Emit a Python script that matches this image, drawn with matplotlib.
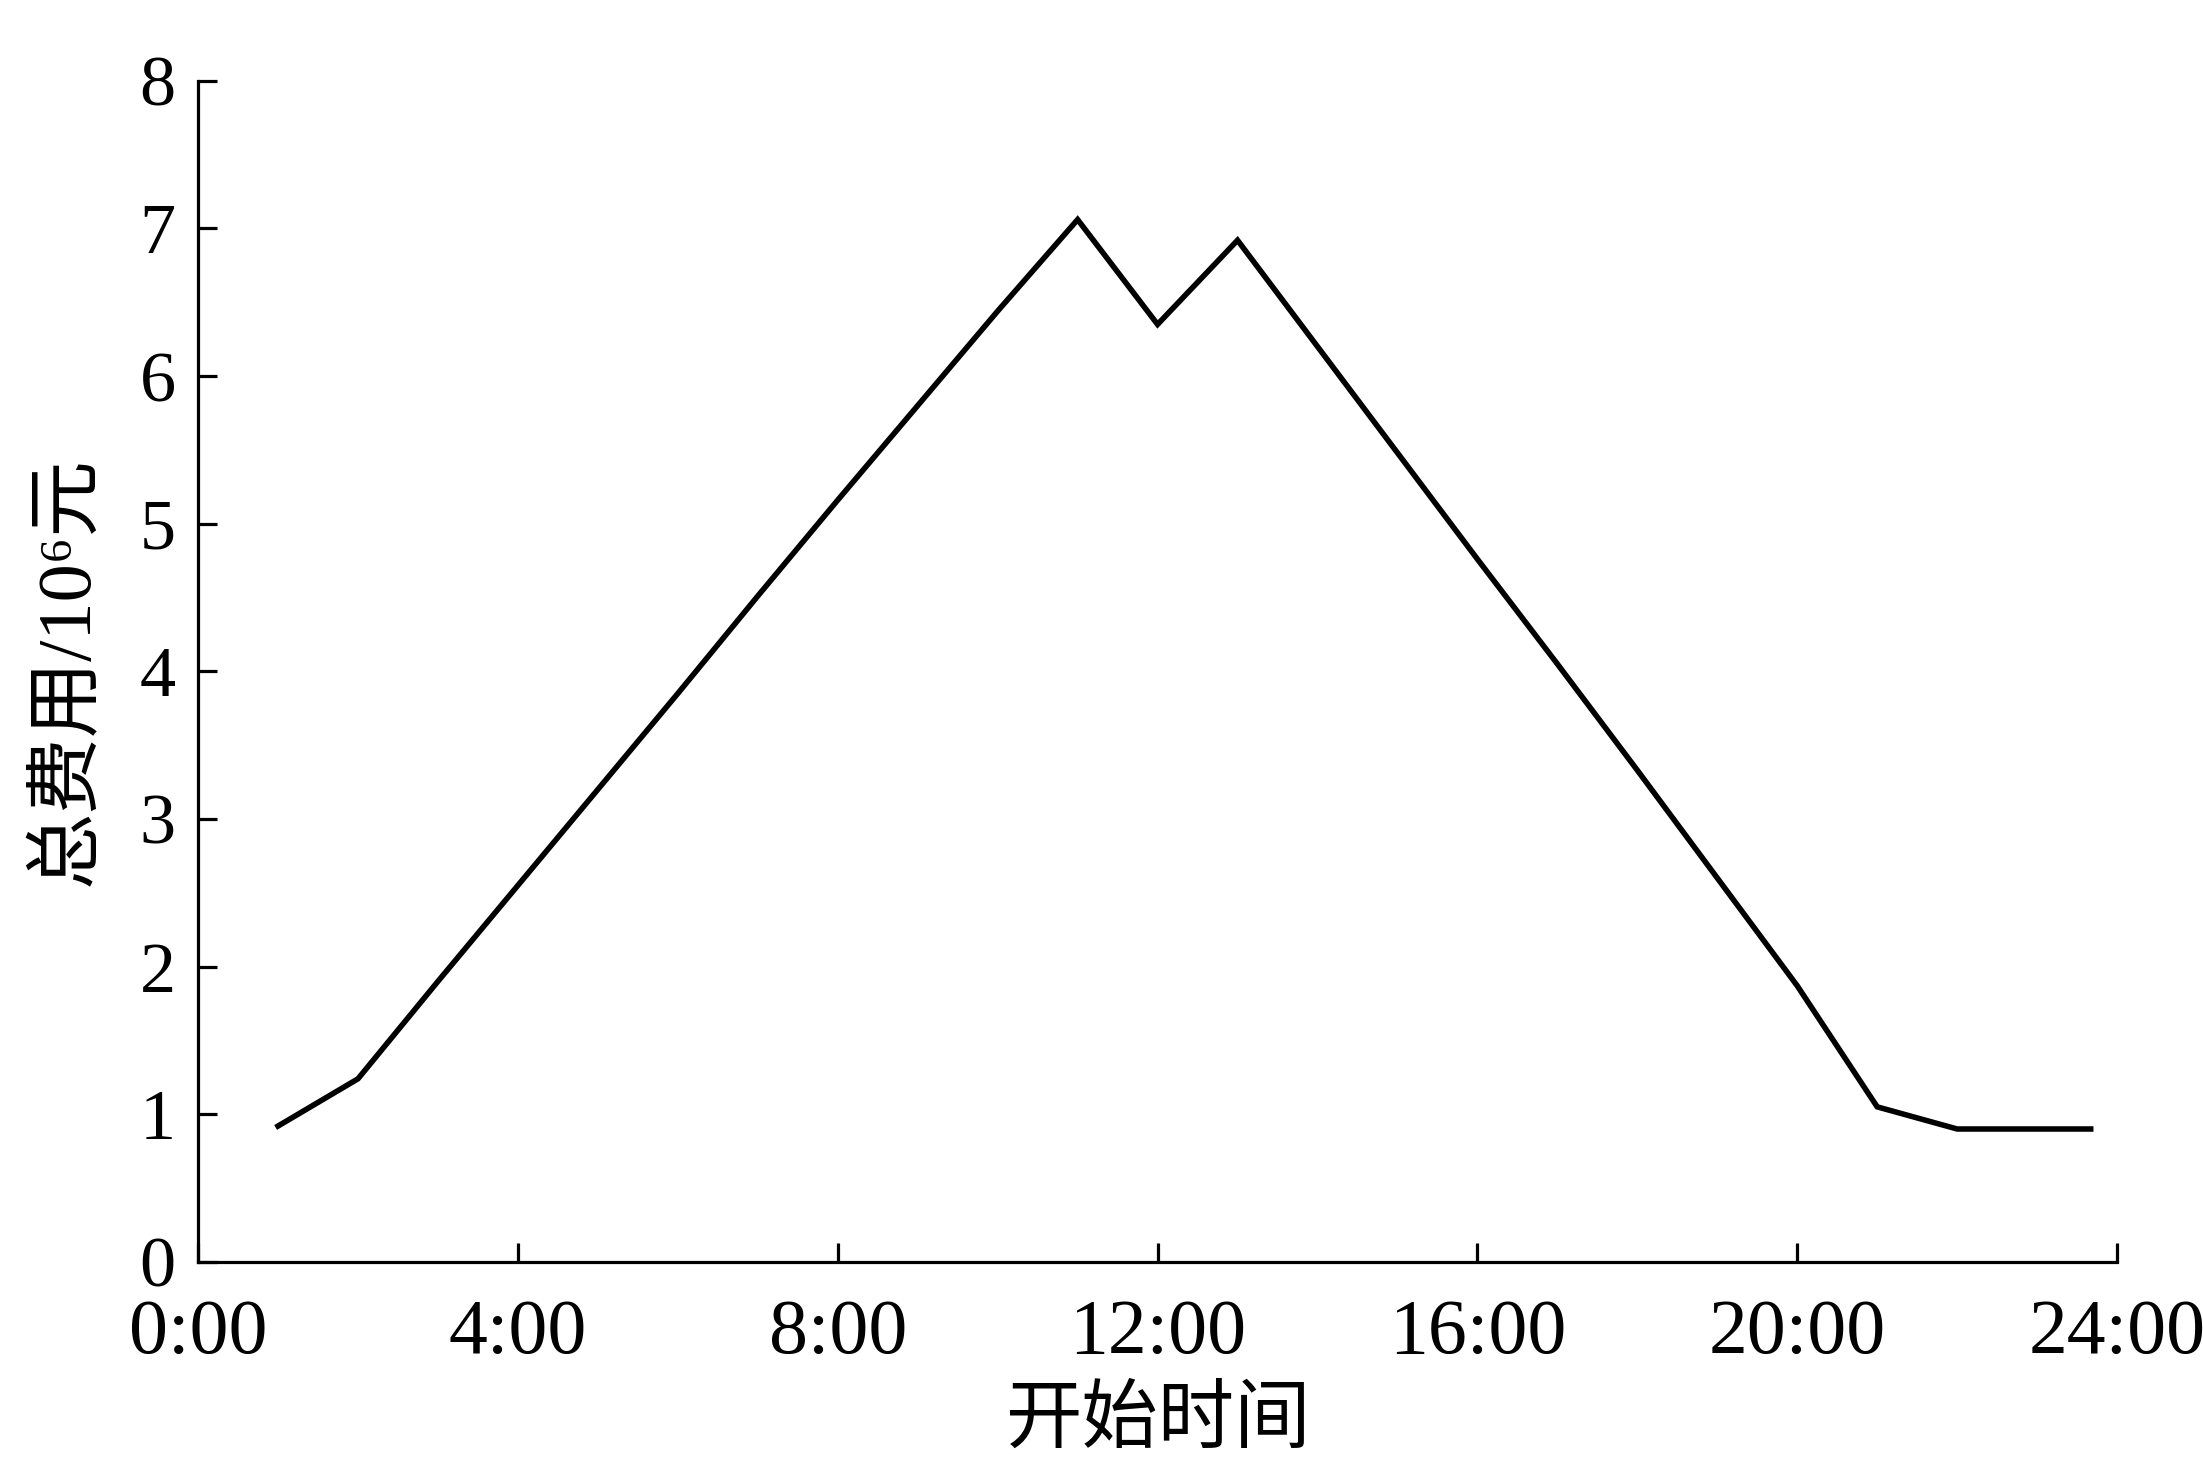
import matplotlib
matplotlib.use("Agg")
import matplotlib.pyplot as plt

# Data (hours of start time, total cost in 10^6 yuan)
hours = [1, 2, 3, 4, 5, 6, 7, 8, 9, 10, 11, 12, 13, 14, 15, 16, 17, 18, 19, 20, 21, 22, 23, 23.67]
cost = [0.92, 1.24, 1.90, 2.55, 3.20, 3.85, 4.51, 5.16, 5.80, 6.44, 7.06, 6.35, 6.92,
        6.20, 5.48, 4.76, 4.05, 3.33, 2.60, 1.87, 1.05, 0.90, 0.90, 0.90]
xticks = [0, 4, 8, 12, 16, 20, 24]
xticklabels = ["0:00", "4:00", "8:00", "12:00", "16:00", "20:00", "24:00"]
yticks = [0, 1, 2, 3, 4, 5, 6, 7, 8]

serif = ["Liberation Serif", "Noto Sans CJK SC", "DejaVu Sans"]
cjk = ["Noto Sans CJK SC", "Liberation Serif", "DejaVu Sans"]

fig = plt.figure(figsize=(22.03, 14.69), dpi=100)
ax = fig.add_axes([0.0899, 0.141, 0.961 - 0.0899, 0.945 - 0.141])

ax.plot(hours, cost, color="black", linewidth=4.0, solid_joinstyle="miter")

ax.set_xlim(0, 24)
ax.set_ylim(0, 8)
ax.spines["top"].set_visible(False)
ax.spines["right"].set_visible(False)
for s in ("left", "bottom"):
    ax.spines[s].set_linewidth(2.3)

ax.set_xticks(xticks)
ax.set_xticklabels(xticklabels, family=serif, fontsize=56)
ax.set_yticks(yticks)
ax.set_yticklabels([str(v) for v in yticks], family=serif, fontsize=52)
ax.tick_params(axis="both", direction="in", length=14, width=2.3)
ax.tick_params(axis="x", pad=26)
ax.tick_params(axis="y", pad=16)

ax.set_xlabel("开始时间", family=cjk, fontsize=55, labelpad=8)
ax.set_ylabel("总费用/10⁶元", family=serif, fontsize=55, labelpad=26)

fig.savefig("out.png", dpi=100, facecolor="white")
